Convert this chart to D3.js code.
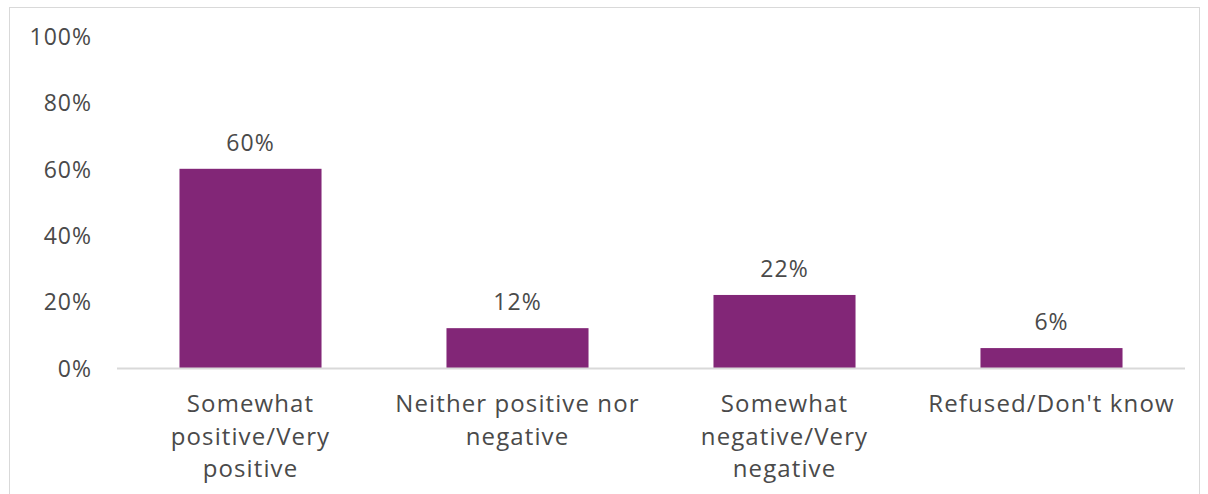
<!DOCTYPE html>
<html>
<head>
<meta charset="utf-8">
<script src="https://cdn.jsdelivr.net/npm/d3@7"></script>
<style>
  html, body { margin: 0; padding: 0; background: #fff; }
  svg { display: block; }
  text { font-family: "Open Sans", "Lato", sans-serif; fill: #4a4a4a; }
</style>
</head>
<body>
<svg id="chart" width="1208" height="494"></svg>
<script>
// Survey response shares
const categories = [
  "Somewhat positive/Very positive",
  "Neither positive nor negative",
  "Somewhat negative/Very negative",
  "Refused/Don't know"
];
// Line breaks used for the axis labels
const categoryLines = [
  ["Somewhat", "positive/Very", "positive"],
  ["Neither positive nor", "negative"],
  ["Somewhat", "negative/Very", "negative"],
  ["Refused/Don't know"]
];
const values = [60, 12, 22, 6];
const yTicks = [0, 20, 40, 60, 80, 100];

const svg = d3.select("#chart");

// Outer chart frame
svg.append("rect")
  .attr("x", 9.5).attr("y", 7.5)
  .attr("width", 1190).attr("height", 500)
  .attr("fill", "none")
  .attr("stroke", "#d9d9d9")
  .attr("stroke-width", 1);

const plot = { left: 117, right: 1185, top: 36, bottom: 368 };

const x = d3.scaleBand()
  .domain(categories)
  .range([plot.left, plot.right])
  .paddingInner(0.468)
  .paddingOuter(0.234);

const y = d3.scaleLinear()
  .domain([0, 100])
  .range([plot.bottom, plot.top]);

// Y axis labels (no axis line, no ticks)
const yAxis = d3.axisLeft(y)
  .tickValues(yTicks)
  .tickFormat(d => d + "%")
  .tickSize(0)
  .tickPadding(0);

const yg = svg.append("g")
  .attr("transform", `translate(92,0)`)
  .call(yAxis);
yg.select(".domain").remove();
yg.selectAll("text")
  .attr("font-size", 23)
  .attr("font-family", "'Open Sans', Lato, sans-serif")
  .attr("letter-spacing", 1)
  .attr("fill", "#4a4a4a")
  .attr("dy", "0.36em");

// Bars
svg.append("g").selectAll("rect")
  .data(values)
  .join("rect")
  .attr("x", (d, i) => x(categories[i]))
  .attr("width", x.bandwidth())
  .attr("y", d => y(d))
  .attr("height", d => y(0) - y(d))
  .attr("fill", "#822677");

// Baseline
svg.append("line")
  .attr("x1", plot.left).attr("x2", plot.right)
  .attr("y1", y(0) + 0.5).attr("y2", y(0) + 0.5)
  .attr("stroke", "#d9d9d9")
  .attr("stroke-width", 2);

// Value labels
svg.append("g").selectAll("text")
  .data(values)
  .join("text")
  .attr("x", (d, i) => x(categories[i]) + x.bandwidth() / 2)
  .attr("y", d => y(d) - 18)
  .attr("text-anchor", "middle")
  .attr("font-size", 23)
  .attr("letter-spacing", 1)
  .text(d => d + "%");

// Category labels
const xg = svg.append("g");
categories.forEach((c, i) => {
  const cx = x(c) + x.bandwidth() / 2;
  const t = xg.append("text")
    .attr("text-anchor", "middle")
    .attr("font-size", 24)
    .attr("letter-spacing", 1.1);
  categoryLines[i].forEach((line, j) => {
    t.append("tspan")
      .attr("x", cx)
      .attr("y", 412 + j * 32.5)
      .text(line);
  });
});
</script>
</body>
</html>
